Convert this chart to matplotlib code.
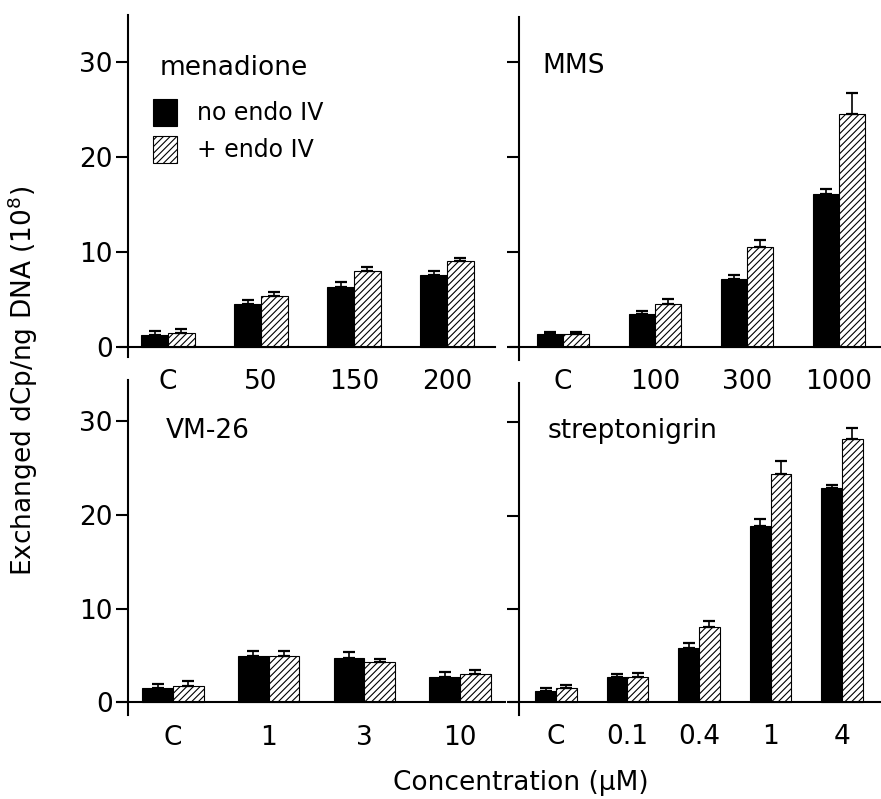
import matplotlib
matplotlib.use("Agg")
import matplotlib.pyplot as plt
import numpy as np

plt.rcParams['font.family'] = ['DejaVu Sans']
plt.rcParams['mathtext.fontset'] = 'dejavusans'
plt.rcParams['hatch.linewidth'] = 0.8

# values (10^8 exchanged dCp / ng DNA)
men_labels = ['C', '50', '150', '200']
men_no = [1.3, 4.5, 6.35, 7.6]
men_no_err = [0.35, 0.45, 0.45, 0.4]
men_endo = [1.5, 5.4, 8.0, 9.05]
men_endo_err = [0.4, 0.4, 0.45, 0.35]

mms_labels = ['C', '100', '300', '1000']
mms_no = [1.3, 3.45, 7.15, 16.1]
mms_no_err = [0.25, 0.35, 0.4, 0.6]
mms_endo = [1.3, 4.5, 10.5, 24.6]
mms_endo_err = [0.25, 0.5, 0.75, 2.2]

vm_labels = ['C', '1', '3', '10']
vm_no = [1.5, 4.95, 4.77, 2.74]
vm_no_err = [0.5, 0.55, 0.6, 0.45]
vm_endo = [1.78, 4.95, 4.3, 3.0]
vm_endo_err = [0.5, 0.55, 0.3, 0.5]

str_labels = ['C', '0.1', '0.4', '1', '4']
str_no = [1.2, 2.68, 5.8, 18.9, 22.9]
str_no_err = [0.3, 0.32, 0.5, 0.7, 0.4]
str_endo = [1.5, 2.75, 8.1, 24.5, 28.2]
str_endo_err = [0.36, 0.35, 0.6, 1.3, 1.2]

W, H = 881, 799
fig = plt.figure(figsize=(W / 100, H / 100), dpi=100)


def add_panel(box, xlim, ylim, spine_x, width, labels, no, no_err, endo, endo_err, ylabels):
    x0, y0, x1, y1 = box  # pixel box, top-left origin
    ax = fig.add_axes([x0 / W, 1 - y1 / H, (x1 - x0) / W, (y1 - y0) / H])
    x = np.arange(len(labels))
    eb = dict(elinewidth=1.2, capthick=1.6, capsize=4.5, ecolor='black')
    ax.bar(x - width / 2, no, width, color='black', edgecolor='black', linewidth=0.8,
           yerr=[np.zeros(len(no)), no_err], error_kw=eb, label='no endo IV')
    ax.bar(x + width / 2, endo, width, color='white', edgecolor='black', linewidth=0.8,
           hatch='/////', yerr=[np.zeros(len(endo)), endo_err], error_kw=eb, label='+ endo IV')
    ax.set_xlim(*xlim)
    ax.set_ylim(*ylim)
    ax.spines['top'].set_visible(False)
    ax.spines['right'].set_visible(False)
    ax.spines['bottom'].set_position(('data', 0))
    ax.spines['left'].set_position(('data', spine_x))
    for s in ('bottom', 'left'):
        ax.spines[s].set_linewidth(1.5)
    ax.set_xticks(x)
    ax.set_xticklabels(labels, fontsize=19)
    ax.tick_params(axis='x', length=0, pad=16)
    ax.set_yticks([0, 10, 20, 30])
    ax.tick_params(axis='y', length=9, width=1.5, labelsize=19, pad=2)
    if not ylabels:
        ax.set_yticklabels([])
    ax.patch.set_visible(False)
    return ax


ax1 = add_panel((120, 15, 495, 357), (-0.516, 3.516), (-1.05, 34.9), -0.43, 0.29,
                men_labels, men_no, men_no_err, men_endo, men_endo_err, True)
ax2 = add_panel((510, 17, 881, 360), (-0.576, 3.457), (-1.4, 34.8), -0.478, 0.28,
                mms_labels, mms_no, mms_no_err, mms_endo, mms_endo_err, False)
ax3 = add_panel((117, 380, 505, 715), (-0.585, 3.47), (-1.35, 34.4), -0.47, 0.32,
                vm_labels, vm_no, vm_no_err, vm_endo, vm_endo_err, True)
ax4 = add_panel((510, 383, 881, 715), (-0.643, 4.545), (-1.37, 34.2), -0.517, 0.29,
                str_labels, str_no, str_no_err, str_endo, str_endo_err, False)

for txt, px, py in [('menadione', 160, 75), ('MMS', 542, 73),
                    ('VM-26', 166, 438), ('streptonigrin', 548, 438)]:
    fig.text(px / W, 1 - py / H, txt, fontsize=19, va='baseline', ha='left')

ax1.legend(loc='upper left', bbox_to_anchor=(153 / W, 1 - 99 / H), bbox_transform=fig.transFigure,
           frameon=False, fontsize=17, handlelength=1.02, handleheight=1.4,
           labelspacing=0.4, handletextpad=0.85, borderpad=0, borderaxespad=0)

fig.text(23 / W, 1 - 381 / H, 'Exchanged dCp/ng DNA (10$^8$)', rotation=90,
         fontsize=19, ha='center', va='center')
fig.text(521 / W, 1 - 790 / H, 'Concentration (\u03bcM)', fontsize=19, ha='center', va='baseline')

fig.savefig('out.png', dpi=100)
